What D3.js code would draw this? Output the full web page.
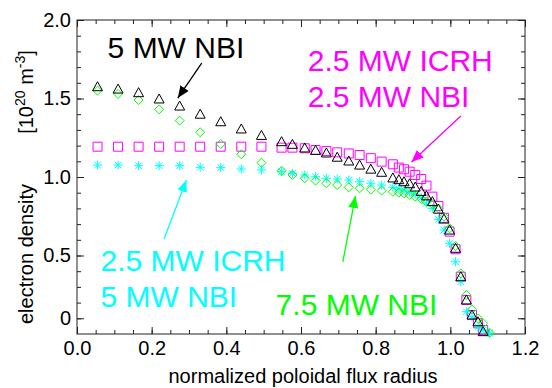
<!DOCTYPE html>
<html>
<head>
<meta charset="utf-8">
<script src="https://cdn.jsdelivr.net/npm/d3@7"></script>
<style>
  body { margin: 0; background: #fff; }
  text { font-family: "Liberation Sans", Arial, Helvetica, sans-serif; }
</style>
</head>
<body>
<div id="chart"></div>
<script>
// normalized poloidal flux radius (shared grid of the profiles)
const radius = [0.055, 0.11, 0.165, 0.22, 0.275, 0.33, 0.385, 0.44, 0.494, 0.548,
  0.577, 0.61, 0.639, 0.668, 0.697, 0.728, 0.757, 0.787, 0.816, 0.846,
  0.862, 0.876, 0.891, 0.906, 0.922, 0.936, 0.952, 0.968, 0.983, 0.998,
  1.014, 1.028, 1.043, 1.058, 1.074, 1.088, 1.105];

// electron density [1e20 m^-3]
const nbi5 = [1.575, 1.56, 1.537, 1.497, 1.452, 1.40, 1.352, 1.306, 1.265, 1.225,
  1.208, 1.185, 1.17, 1.153, 1.126, 1.102, 1.076, 1.05, 1.03, 0.994,
  0.983, 0.97, 0.957, 0.936, 0.908, 0.88, 0.843, 0.795, 0.732, 0.662,
  0.546, 0.365, 0.217, 0.121, 0.078, 0.015, null];
const icrh25nbi25 = [1.193, 1.193, 1.193, 1.193, 1.193, 1.193, 1.193, 1.193, 1.193, 1.187,
  1.187, 1.183, 1.172, 1.165, 1.157, 1.15, 1.14, 1.12, 1.098, 1.081,
  1.06, 1.049, 1.034, 1.013, 0.987, 0.945, 0.875, 0.815, 0.74, 0.652,
  0.54, 0.365, 0.217, 0.121, 0.068, 0.025, null];
const icrh25nbi5 = [1.076, 1.076, 1.072, 1.072, 1.072, 1.062, 1.06, 1.051, 1.045, 1.034,
  1.023, 1.013, 1.002, 0.992, 0.987, 0.981, 0.97, 0.96, 0.949, 0.934,
  0.925, 0.917, 0.905, 0.89, 0.868, 0.834, 0.8, 0.73, 0.662, 0.578,
  0.46, 0.333, 0.142, 0.11, 0.046, 0.025, 0.006];
const nbi75 = [1.55, 1.529, 1.49, 1.431, 1.359, 1.285, 1.21, 1.145, 1.091, 1.04,
  1.013, 0.992, 0.977, 0.96, 0.949, 0.934, 0.928, 0.92, 0.913, 0.906,
  0.9, 0.896, 0.886, 0.875, 0.86, 0.843, 0.827, 0.8, 0.747, 0.673,
  0.56, 0.386, 0.248, 0.157, 0.1, 0.068, 0.008];

// tick labels
const xTickValues = [0, 0.2, 0.4, 0.6, 0.8, 1.0, 1.2];
const yTickValues = [0.1, 0.5, 1.0, 1.5, 2.0];
const yTickLabels = ["0", "0.5", "1.0", "1.5", "2.0"];

// annotation labels [text lines], anchor and arrow in data units
const labelLines = [["5 MW NBI"], ["2.5 MW ICRH", "2.5 MW NBI"], ["2.5 MW ICRH", "5 MW NBI"], ["7.5 MW NBI"]];
const labelPos = [[0.082, 1.758], [0.618, 1.675], [0.063, 0.401], [0.532, 0.121]];
const arrowFrom = [[0.334, 1.726], [1.028, 1.389], [0.233, 0.603], [0.712, 0.459]];
const arrowTo = [[0.27, 1.503], [0.896, 1.096], [0.293, 0.981], [0.746, 0.879]];
const colors = ["#000000", "#ff00ff", "#00ffff", "#00ff00"];

//dimensions
const SIZE = {X: 552, Y: 388};
const MARGIN = {TOP: 20, BOTTOM: 54, LEFT: 77, RIGHT: 27};
const DIM = {WIDTH: SIZE.X - MARGIN.LEFT - MARGIN.RIGHT,
             HEIGHT: SIZE.Y - MARGIN.TOP - MARGIN.BOTTOM};

const svg = d3.select("#chart").append("svg")
    .attr("width", SIZE.X)
    .attr("height", SIZE.Y);

const graph = svg.append("g")
    .attr("transform", `translate(${MARGIN.LEFT}, ${MARGIN.TOP})`);

//scales
const x = d3.scaleLinear().domain([0, 1.2]).range([0, DIM.WIDTH]);
const y = d3.scaleLinear().domain([0, 2.0]).range([DIM.HEIGHT, 0]);

const AXIS_COLOR = "#222";

//major + minor ticks, all pointing inward
function styleAxis(g) {
    g.select(".domain").remove();
    g.selectAll("line").attr("stroke", AXIS_COLOR);
    g.selectAll("text").attr("font-size", "20px").attr("fill", "#000");
}

graph.append("g")
    .call(d3.axisLeft(y).tickValues(yTickValues).tickSize(-7).tickPadding(6)
        .tickFormat((d, i) => yTickLabels[i]))
    .call(styleAxis);
graph.append("g")
    .call(d3.axisLeft(y).tickValues(d3.range(0.1, 2.0, 0.1)).tickSize(-4).tickFormat(""))
    .call(styleAxis);
graph.append("g")
    .attr("transform", `translate(${DIM.WIDTH},0)`)
    .call(d3.axisRight(y).tickValues(yTickValues).tickSize(-7).tickFormat(""))
    .call(styleAxis);
graph.append("g")
    .attr("transform", `translate(${DIM.WIDTH},0)`)
    .call(d3.axisRight(y).tickValues(d3.range(0.1, 2.0, 0.1)).tickSize(-4).tickFormat(""))
    .call(styleAxis);

graph.append("g")
    .attr("transform", `translate(0,${DIM.HEIGHT})`)
    .call(d3.axisBottom(x).tickValues(xTickValues).tickSize(-7).tickPadding(7)
        .tickFormat(d3.format(".1f")))
    .call(styleAxis);
graph.append("g")
    .attr("transform", `translate(0,${DIM.HEIGHT})`)
    .call(d3.axisBottom(x).tickValues(d3.range(0.05, 1.2, 0.05)).tickSize(-4).tickFormat(""))
    .call(styleAxis);
graph.append("g")
    .call(d3.axisTop(x).tickValues(xTickValues).tickSize(-7).tickFormat(""))
    .call(styleAxis);
graph.append("g")
    .call(d3.axisTop(x).tickValues(d3.range(0.05, 1.2, 0.05)).tickSize(-4).tickFormat(""))
    .call(styleAxis);

//frame
graph.append("rect")
    .attr("width", DIM.WIDTH)
    .attr("height", DIM.HEIGHT)
    .attr("fill", "none")
    .attr("stroke", AXIS_COLOR)
    .attr("stroke-width", 1);

//axis titles
svg.append("text")
    .attr("x", MARGIN.LEFT + DIM.WIDTH / 2 + 2)
    .attr("y", 383)
    .attr("text-anchor", "middle")
    .attr("font-size", "20px")
    .text("normalized poloidal flux radius");

svg.append("text")
    .attr("transform", "translate(33,254) rotate(-90)")
    .attr("text-anchor", "middle")
    .attr("font-size", "20px")
    .text("electron density");

const unit = svg.append("text")
    .attr("transform", "translate(33,92) rotate(-90)")
    .attr("text-anchor", "middle")
    .attr("font-size", "20px");
unit.append("tspan").text("[10");
unit.append("tspan").attr("font-size", "14px").attr("dy", "-8").text("20");
unit.append("tspan").attr("dy", "8").text(" m");
unit.append("tspan").attr("font-size", "14px").attr("dy", "-8").text("-3");
unit.append("tspan").attr("dy", "8").text("]");

//marker shapes (psym style)
const shapes = {
    square: "M-4.5,-4.5H4.5V4.5H-4.5Z",
    star: "M-4.5,0H4.5M0,-4.5V4.5M-3.3,-3.3L3.3,3.3M-3.3,3.3L3.3,-3.3",
    diamond: "M0,-4.5L4.5,0L0,4.5L-4.5,0Z",
    triangle: "M0,-5L5,4L-5,4Z"
};

const series = [
    {values: icrh25nbi25, color: colors[1], shape: "square"},
    {values: icrh25nbi5, color: colors[2], shape: "star"},
    {values: nbi75, color: colors[3], shape: "diamond"},
    {values: nbi5, color: colors[0], shape: "triangle"}
];

series.forEach(s => {
    const pts = radius.map((r, i) => ({r: r, v: s.values[i]})).filter(d => d.v !== null);
    graph.append("g")
        .selectAll("path")
        .data(pts)
        .enter()
            .append("path")
            .attr("d", shapes[s.shape])
            .attr("transform", d => `translate(${x(d.r)},${y(d.v)})`)
            .attr("fill", "none")
            .attr("stroke", s.color)
            .attr("stroke-width", 1);
});

//arrow heads
const defs = svg.append("defs");
colors.forEach((c, i) => {
    defs.append("marker")
        .attr("id", "head" + i)
        .attr("markerUnits", "userSpaceOnUse")
        .attr("markerWidth", 14)
        .attr("markerHeight", 12)
        .attr("refX", 12)
        .attr("refY", 6)
        .attr("orient", "auto")
        .append("path")
        .attr("d", "M0,1L12,6L0,11Z")
        .attr("fill", c);
});

//annotations
labelLines.forEach((lines, i) => {
    const t = graph.append("text")
        .attr("x", x(labelPos[i][0]))
        .attr("y", y(labelPos[i][1]))
        .attr("font-size", "30px")
        .attr("fill", colors[i]);
    lines.forEach((l, j) => {
        t.append("tspan")
            .attr("x", x(labelPos[i][0]))
            .attr("dy", j === 0 ? 0 : 36)
            .text(l);
    });

    graph.append("line")
        .attr("x1", x(arrowFrom[i][0]))
        .attr("y1", y(arrowFrom[i][1]))
        .attr("x2", x(arrowTo[i][0]))
        .attr("y2", y(arrowTo[i][1]))
        .attr("stroke", colors[i])
        .attr("stroke-width", 1.3)
        .attr("marker-end", `url(#head${i})`);
});
</script>
</body>
</html>
